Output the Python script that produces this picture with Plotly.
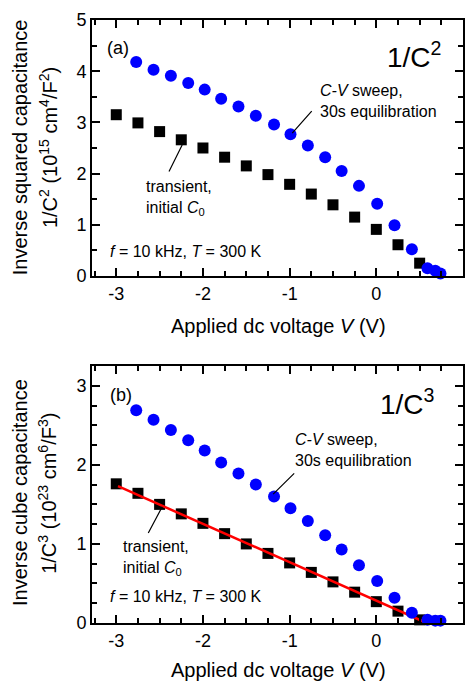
import plotly.graph_objects as go
from plotly.subplots import make_subplots

# C-V sweep (30 s equilibration), blue circles
cv_v = [-2.77, -2.57, -2.37, -2.17, -1.98, -1.79, -1.59, -1.39, -1.18, -0.99,
        -0.79, -0.59, -0.40, -0.20, 0.01, 0.21, 0.41, 0.59, 0.68, 0.74]
cv_inv_c2 = [4.18, 4.03, 3.91, 3.77, 3.64, 3.46, 3.31, 3.13, 2.96, 2.77,
             2.55, 2.32, 2.05, 1.76, 1.41, 0.99, 0.52, 0.15, 0.10, 0.05]
cv_inv_c3 = [2.69, 2.57, 2.44, 2.31, 2.18, 2.03, 1.89, 1.75, 1.60, 1.45,
             1.29, 1.11, 0.93, 0.73, 0.53, 0.32, 0.13, 0.04, 0.03, 0.03]

# transient, initial C0, black squares
tr_v = [-3.0, -2.75, -2.5, -2.25, -2.0, -1.75, -1.5, -1.25, -1.0, -0.75,
        -0.5, -0.25, 0.0, 0.25, 0.5]
tr_inv_c2 = [3.15, 2.99, 2.82, 2.66, 2.50, 2.32, 2.15, 1.98, 1.79, 1.60,
             1.39, 1.15, 0.91, 0.61, 0.25]
tr_inv_c3 = [1.76, 1.64, 1.50, 1.38, 1.26, 1.13, 1.00, 0.88, 0.76, 0.64,
             0.52, 0.39, 0.27, 0.15, 0.04]

# linear fit to transient 1/C^3
fit_v = [-2.98, 0.58]
fit_c3 = [1.73, 0.0]

x_ticks = [-3, -2, -1, 0, 1]
x_ticklabels = ["-3", "-2", "-1", "0", "1"]

FONT = "Arial, Liberation Sans, sans-serif"
BLUE = "#0000FF"

fig = make_subplots(rows=2, cols=1, vertical_spacing=0.0)

fig.add_trace(go.Scatter(x=tr_v, y=tr_inv_c2, mode="markers",
                         marker=dict(symbol="square", size=11, color="black"),
                         showlegend=False, cliponaxis=False), row=1, col=1)
fig.add_trace(go.Scatter(x=cv_v, y=cv_inv_c2, mode="markers",
                         marker=dict(symbol="circle", size=12, color=BLUE),
                         showlegend=False, cliponaxis=False), row=1, col=1)

fig.add_trace(go.Scatter(x=tr_v, y=tr_inv_c3, mode="markers",
                         marker=dict(symbol="square", size=11, color="black"),
                         showlegend=False, cliponaxis=False), row=2, col=1)
fig.add_trace(go.Scatter(x=fit_v, y=fit_c3, mode="lines",
                         line=dict(color="#FF0000", width=2.5),
                         showlegend=False), row=2, col=1)
fig.add_trace(go.Scatter(x=cv_v, y=cv_inv_c3, mode="markers",
                         marker=dict(symbol="circle", size=12, color=BLUE),
                         showlegend=False, cliponaxis=False), row=2, col=1)

axis_common = dict(showline=True, linecolor="black", linewidth=2, mirror="ticks",
                   ticks="inside", ticklen=8, tickwidth=2, tickcolor="#000000",
                   showgrid=False, zeroline=False, automargin=False,
                   tickfont=dict(family=FONT, size=18, color="black"))

for r in (1, 2):
    fig.update_xaxes(range=[-3.28, 1.0], tickvals=x_ticks, ticktext=x_ticklabels,
                     minor=dict(ticks="inside", ticklen=5, tickwidth=1.5,
                                tickcolor="#000000", dtick=0.25, tick0=0),
                     row=r, col=1, **axis_common)

fig.update_yaxes(range=[0, 5], tickvals=[0, 1, 2, 3, 4, 5],
                 minor=dict(ticks="inside", ticklen=5, tickwidth=1.5,
                            tickcolor="#000000", dtick=0.5, tick0=0),
                 row=1, col=1, **axis_common)
fig.update_yaxes(range=[0, 3.25], tickvals=[0, 1, 2, 3],
                 minor=dict(ticks="inside", ticklen=5, tickwidth=1.5,
                            tickcolor="#000000", dtick=0.25, tick0=0),
                 row=2, col=1, **axis_common)

fig.update_layout(
    width=466, height=684,
    margin=dict(l=92, r=3, t=20, b=61, autoexpand=False),
    paper_bgcolor="white", plot_bgcolor="white",
    xaxis=dict(domain=[0, 1]), yaxis=dict(domain=[0.5755, 1.0]),
    xaxis2=dict(domain=[0, 1]), yaxis2=dict(domain=[0.0, 0.4262]),
)

ann = []
def txt(text, x, y, xref, yref, size=16, xanchor="left", angle=0, yanchor="middle"):
    ann.append(dict(text=text, x=x, y=y, xref=xref, yref=yref, showarrow=False,
                    xanchor=xanchor, yanchor=yanchor, align="left", textangle=angle,
                    font=dict(family=FONT, size=size, color="black")))

def pointer(x0, y0, x1, y1, xr, yr):
    ann.append(dict(text="", x=x0, y=y0, ax=x1, ay=y1, xref=xr, yref=yr,
                    axref=xr, ayref=yr, showarrow=True, arrowhead=0,
                    arrowwidth=1.2, arrowcolor="black", standoff=0, startstandoff=0))

# panel (a)
txt("(a)", -3.13, 4.46, "x", "y", size=18)
txt("1/C<sup>2</sup>", 0.77, 4.32, "x", "y", size=28, xanchor="right")
txt("<i>C-V</i> sweep,<br>30s equilibration", -0.67, 3.41, "x", "y")
pointer(-0.97, 2.79, -0.73, 3.25, "x", "y")
txt("transient,<br>initial <i>C</i><sub>0</sub>", -2.68, 1.53, "x", "y")
pointer(-2.24, 2.56, -2.40, 2.01, "x", "y")
txt("<i>f</i> = 10 kHz, <i>T</i> = 300 K", -3.10, 0.47, "x", "y")

# panel (b)
txt("(b)", -3.10, 2.88, "x2", "y2", size=18)
txt("1/C<sup>3</sup>", 0.70, 2.79, "x2", "y2", size=28, xanchor="right")
txt("<i>C-V</i> sweep,<br>30s equilibration", -0.96, 2.19, "x2", "y2")
pointer(-1.19, 1.63, -0.93, 1.91, "x2", "y2")
txt("transient,<br>initial <i>C</i><sub>0</sub>", -2.94, 0.82, "x2", "y2")
pointer(-2.47, 1.47, -2.64, 1.12, "x2", "y2")
txt("<i>f</i> = 10 kHz, <i>T</i> = 300 K", -3.09, 0.33, "x2", "y2")

# axis titles
txt("Inverse squared capacitance", -0.194, 0.789, "paper", "paper", size=20,
    xanchor="center", angle=-90)
txt("1/C<sup>2</sup> (10<sup>15</sup> cm<sup>4</sup>/F<sup>2</sup>)", -0.119, 0.789,
    "paper", "paper", size=20, xanchor="center", angle=-90)
txt("Inverse cube capacitance", -0.194, 0.2156, "paper", "paper", size=20,
    xanchor="center", angle=-90)
txt("1/C<sup>3</sup> (10<sup>23</sup> cm<sup>6</sup>/F<sup>3</sup>)", -0.119, 0.2156,
    "paper", "paper", size=20, xanchor="center", angle=-90)
txt("Applied dc voltage <i>V</i> (V)", 0.503, 0.4925, "paper", "paper", size=20,
    xanchor="center")
txt("Applied dc voltage <i>V</i> (V)", 0.503, -0.078, "paper", "paper", size=20,
    xanchor="center")

fig.update_layout(annotations=ann)
fig.write_html("out.html", config={"displayModeBar": False},
               post_script="document.body.style.margin='0';document.body.style.overflow='hidden';")
